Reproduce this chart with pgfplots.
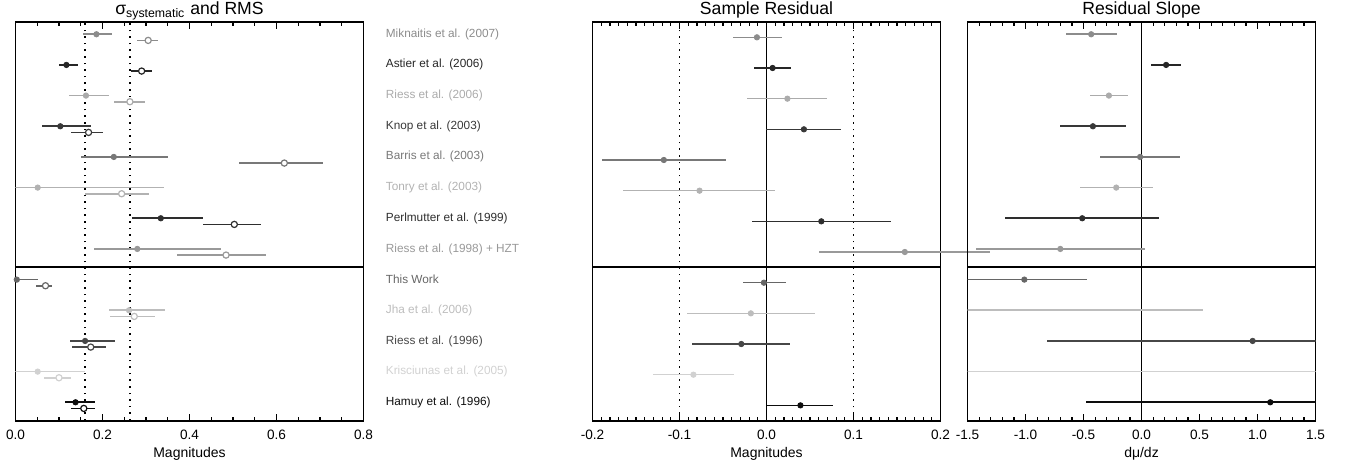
\documentclass[border=0pt]{standalone}
\usepackage{fontspec}
\setmainfont{Liberation Sans}
\usepackage{pgfplots}
\pgfplotsset{compat=1.18}
\definecolor{cMik}{gray}{0.55}
\definecolor{cAst}{gray}{0.15}
\definecolor{cRsA}{gray}{0.67}
\definecolor{cKno}{gray}{0.22}
\definecolor{cBar}{gray}{0.47}
\definecolor{cTon}{gray}{0.70}
\definecolor{cPer}{gray}{0.18}
\definecolor{cRsB}{gray}{0.60}
\definecolor{cThi}{gray}{0.40}
\definecolor{cJha}{gray}{0.74}
\definecolor{cRsC}{gray}{0.28}
\definecolor{cKri}{gray}{0.82}
\definecolor{cHam}{gray}{0.05}
\tikzset{dotl/.style={line width=0.9pt, dash pattern=on 0.8pt off 2.5pt}}
\pgfplotsset{
  panel/.style={
    scale only axis, width=174pt, height=199.35pt,
    ymin=0.4, ymax=13.4, ytick=\empty,
    axis line style={line width=0.9pt},
    tick align=inside,
    major tick length=3.4pt, minor tick length=1.8pt,
    every tick/.append style={line width=0.6pt, black},
    tick label style={font=\fontsize{6.8}{8}\selectfont},
    xticklabel style={yshift=-1pt, /pgf/number format/.cd, fixed, fixed zerofill, precision=1, assume math mode=true},
    label style={font=\fontsize{7}{8}\selectfont},
    xlabel style={yshift=3pt},
    title style={font=\fontsize{8.8}{10}\selectfont, at={(0.5,1)}, anchor=base, yshift=-2.4pt, inner sep=0pt},
  },
  fpt/.style={only marks, mark=*, mark size=1.35pt, color=#1,
    error bars/.cd, x dir=both, x explicit, error mark=none,
    error bar style={line width=0.8pt, #1}},
  opt/.style={only marks, mark=*, mark size=1.55pt, color=#1,
    mark options={fill=white, line width=0.6pt},
    error bars/.cd, x dir=both, x explicit, error mark=none,
    error bar style={line width=0.8pt, #1}},
}
\begin{document}
\begin{tikzpicture}
\useasboundingbox (0,0) rectangle (674pt,232pt);
% ---------------- left panel
\begin{axis}[panel, at={(7.75pt,21.65pt)}, anchor=south west,
  xmin=0, xmax=0.8, xtick={0,0.2,0.4,0.6,0.8}, minor x tick num=3,
  xlabel={Magnitudes}, title={σ\textsubscript{systematic} and RMS},
  ytick={1,2,3,4,5,6,7,8,9,10,11,12,13}, yticklabel pos=right,
  ytick style={draw=none},
  yticklabel style={anchor=west, inner sep=0pt, xshift=11pt, font=\fontsize{5.9}{7}\selectfont},
  yticklabels={\textcolor{cHam}{Hamuy et al. (1996)},
    \textcolor{cKri}{Krisciunas et al. (2005)},
    \textcolor{cRsC}{Riess et al. (1996)},
    \textcolor{cJha}{Jha et al. (2006)},
    \textcolor{cThi}{This Work},
    \textcolor{cRsB}{Riess et al. (1998) + HZT},
    \textcolor{cPer}{Perlmutter et al. (1999)},
    \textcolor{cTon}{Tonry et al. (2003)},
    \textcolor{cBar}{Barris et al. (2003)},
    \textcolor{cKno}{Knop et al. (2003)},
    \textcolor{cRsA}{Riess et al. (2006)},
    \textcolor{cAst}{Astier et al. (2006)},
    \textcolor{cMik}{Miknaitis et al. (2007)}},
]
\draw[dotl] (axis cs:0.160,0.4) -- (axis cs:0.160,13.4);
\draw[dotl] (axis cs:0.263,0.4) -- (axis cs:0.263,13.4);
\draw[line width=0.9pt] (axis cs:0,5.4) -- (axis cs:0.8,5.4);
% filled: sigma systematic
\addplot[fpt=cMik] coordinates {(0.186,13) += (0.036,0) -= (0.030,0)};
\addplot[fpt=cAst] coordinates {(0.117,12) += (0.027,0) -= (0.018,0)};
\addplot[fpt=cRsA] coordinates {(0.162,11) += (0.054,0) -= (0.039,0)};
\addplot[fpt=cKno] coordinates {(0.103,10) += (0.070,0) -= (0.042,0)};
\addplot[fpt=cBar] coordinates {(0.226,9) += (0.124,0) -= (0.075,0)};
\addplot[fpt=cTon] coordinates {(0.051,8) += (0.291,0) -= (0.051,0)};
\addplot[fpt=cPer] coordinates {(0.334,7) += (0.098,0) -= (0.066,0)};
\addplot[fpt=cRsB] coordinates {(0.280,6) += (0.192,0) -= (0.099,0)};
\addplot[fpt=cThi] coordinates {(0.003,5) += (0.048,0) -= (0.003,0)};
\addplot[fpt=cJha] coordinates {(0.261,4) += (0.082,0) -= (0.046,0)};
\addplot[fpt=cRsC] coordinates {(0.160,3) += (0.068,0) -= (0.035,0)};
\addplot[fpt=cKri] coordinates {(0.051,2) += (0.109,0) -= (0.051,0)};
\addplot[fpt=cHam] coordinates {(0.138,1) += (0.044,0) -= (0.025,0)};
% open: RMS
\addplot[opt=cMik] coordinates {(0.305,12.8) += (0.023,0) -= (0.026,0)};
\addplot[opt=cAst] coordinates {(0.290,11.8) += (0.023,0) -= (0.025,0)};
\addplot[opt=cRsA] coordinates {(0.263,10.8) += (0.035,0) -= (0.037,0)};
\addplot[opt=cKno] coordinates {(0.168,9.8) += (0.033,0) -= (0.041,0)};
\addplot[opt=cBar] coordinates {(0.618,8.8) += (0.089,0) -= (0.104,0)};
\addplot[opt=cTon] coordinates {(0.244,7.8) += (0.064,0) -= (0.084,0)};
\addplot[opt=cPer] coordinates {(0.503,6.8) += (0.061,0) -= (0.071,0)};
\addplot[opt=cRsB] coordinates {(0.484,5.8) += (0.091,0) -= (0.113,0)};
\addplot[opt=cThi] coordinates {(0.069,4.8) += (0.015,0) -= (0.021,0)};
\addplot[opt=cJha] coordinates {(0.273,3.8) += (0.048,0) -= (0.055,0)};
\addplot[opt=cRsC] coordinates {(0.173,2.8) += (0.034,0) -= (0.042,0)};
\addplot[opt=cKri] coordinates {(0.100,1.8) += (0.027,0) -= (0.035,0)};
\addplot[opt=cHam] coordinates {(0.157,0.8) += (0.025,0) -= (0.030,0)};
\end{axis}
% ---------------- middle panel
\begin{axis}[panel, at={(296.25pt,21.65pt)}, anchor=south west, clip=false,
  xmin=-0.2, xmax=0.2, xtick={-0.2,-0.1,0,0.1,0.2}, minor x tick num=9,
  xlabel={Magnitudes}, title={Sample Residual}]
\draw[dotl] (axis cs:-0.1,0.4) -- (axis cs:-0.1,13.4);
\draw[dotl] (axis cs:0.1,0.4) -- (axis cs:0.1,13.4);
\draw[line width=0.8pt] (axis cs:0,0.4) -- (axis cs:0,13.4);
\draw[line width=0.9pt] (axis cs:-0.2,5.4) -- (axis cs:0.2,5.4);
\addplot[fpt=cMik] coordinates {(-0.011,12.9) += (0.029,0) -= (0.028,0)};
\addplot[fpt=cAst] coordinates {(0.007,11.9) += (0.021,0) -= (0.021,0)};
\addplot[fpt=cRsA] coordinates {(0.024,10.9) += (0.045,0) -= (0.046,0)};
\addplot[fpt=cKno] coordinates {(0.043,9.9) += (0.043,0) -= (0.044,0)};
\addplot[fpt=cBar] coordinates {(-0.118,8.9) += (0.071,0) -= (0.071,0)};
\addplot[fpt=cTon] coordinates {(-0.077,7.9) += (0.087,0) -= (0.088,0)};
\addplot[fpt=cPer] coordinates {(0.063,6.9) += (0.080,0) -= (0.080,0)};
\addplot[fpt=cRsB] coordinates {(0.159,5.9) += (0.098,0) -= (0.099,0)};
\addplot[fpt=cThi] coordinates {(-0.003,4.9) += (0.025,0) -= (0.024,0)};
\addplot[fpt=cJha] coordinates {(-0.018,3.9) += (0.074,0) -= (0.073,0)};
\addplot[fpt=cRsC] coordinates {(-0.029,2.9) += (0.056,0) -= (0.057,0)};
\addplot[fpt=cKri] coordinates {(-0.084,1.9) += (0.047,0) -= (0.047,0)};
\addplot[fpt=cHam] coordinates {(0.039,0.9) += (0.037,0) -= (0.039,0)};
\end{axis}
% ---------------- right panel
\begin{axis}[panel, at={(483.75pt,21.65pt)}, anchor=south west,
  xmin=-1.5, xmax=1.5, xtick={-1.5,-1,-0.5,0,0.5,1,1.5}, minor x tick num=4,
  xlabel={dμ/dz}, title={Residual Slope}]
\draw[line width=0.9pt] (axis cs:0,0.4) -- (axis cs:0,13.4);
\draw[line width=0.9pt] (axis cs:-1.5,5.4) -- (axis cs:1.5,5.4);
\addplot[fpt=cMik] coordinates {(-0.434,13) +- (0.221,0)};
\addplot[fpt=cAst] coordinates {(0.212,12) +- (0.126,0)};
\addplot[fpt=cRsA] coordinates {(-0.281,11) +- (0.163,0)};
\addplot[fpt=cKno] coordinates {(-0.419,10) +- (0.284,0)};
\addplot[fpt=cBar] coordinates {(-0.012,9) +- (0.348,0)};
\addplot[fpt=cTon] coordinates {(-0.218,8) +- (0.313,0)};
\addplot[fpt=cPer] coordinates {(-0.511,7) +- (0.663,0)};
\addplot[fpt=cRsB] coordinates {(-0.700,6) +- (0.731,0)};
\addplot[fpt=cThi] coordinates {(-1.010,5) +- (0.542,0)};
\addplot[fpt=cJha] coordinates {(-1.650,4) +- (2.180,0)};
\addplot[fpt=cRsC] coordinates {(0.958,3) +- (1.776,0)};
\addplot[fpt=cKri] coordinates {(-1.800,2) +- (3.500,0)};
\addplot[fpt=cHam] coordinates {(1.110,1) +- (1.589,0)};
\end{axis}
\end{tikzpicture}
\end{document}
